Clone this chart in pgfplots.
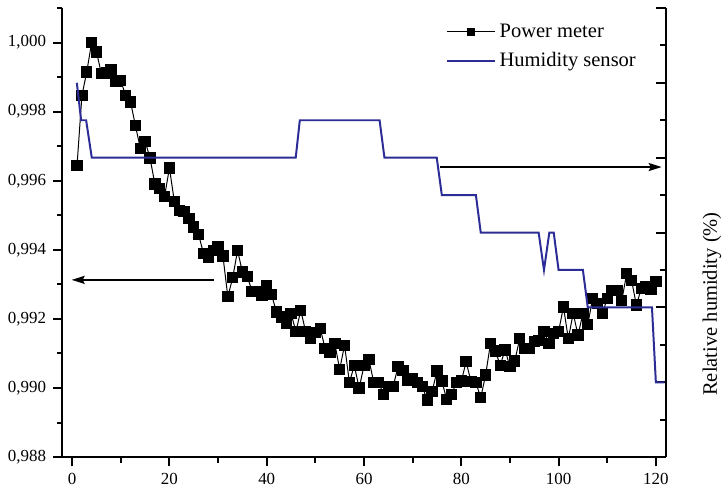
\documentclass[border=0pt]{standalone}
\usepackage{fontspec}
\setmainfont{Liberation Serif}
\usepackage{pgfplots}
\usepackage{pgfplotstable}
\pgfplotsset{compat=1.18}
\usetikzlibrary{arrows.meta}
\definecolor{hum}{RGB}{44,44,150}

\pgfplotstableread{
x y
1 0.99644
2 0.99846
3 0.99915
4 1.00000
5 0.99973
6 0.99910
7 0.99912
8 0.99920
9 0.99889
10 0.99890
11 0.99846
12 0.99828
13 0.99760
14 0.99694
15 0.99714
16 0.99666
17 0.99591
18 0.99577
19 0.99555
20 0.99637
21 0.99540
22 0.99514
23 0.99510
24 0.99490
25 0.99466
26 0.99444
27 0.99389
28 0.99378
29 0.99398
30 0.99408
31 0.99382
32 0.99264
33 0.99319
34 0.99398
35 0.99336
36 0.99323
37 0.99280
38 0.99279
39 0.99268
40 0.99297
41 0.99270
42 0.99220
43 0.99206
44 0.99187
45 0.99216
46 0.99163
47 0.99225
48 0.99163
49 0.99143
50 0.99160
51 0.99172
52 0.99115
53 0.99103
54 0.99128
55 0.99054
56 0.99124
57 0.99016
58 0.99065
59 0.99000
60 0.99065
61 0.99083
62 0.99016
63 0.99016
64 0.98982
65 0.99005
66 0.99005
67 0.99062
68 0.99050
69 0.99023
70 0.99026
71 0.99016
72 0.99004
73 0.98965
74 0.98990
75 0.99049
76 0.99020
77 0.98967
78 0.98982
79 0.99016
80 0.99020
81 0.99076
82 0.99018
83 0.99016
84 0.98972
85 0.99038
86 0.99129
87 0.99107
88 0.99066
89 0.99110
90 0.99062
91 0.99078
92 0.99143
93 0.99115
94 0.99115
95 0.99134
96 0.99138
97 0.99163
98 0.99129
99 0.99158
100 0.99163
101 0.99235
102 0.99143
103 0.99216
104 0.99153
105 0.99216
106 0.99184
107 0.99259
108 0.99244
109 0.99216
110 0.99259
111 0.99283
112 0.99283
113 0.99254
114 0.99331
115 0.99312
116 0.99240
117 0.99288
118 0.99293
119 0.99286
120 0.99309
}\pmdata

\pgfplotstableread{
x h
0.96 10
1.84 9
2.87 9
4.03 8
45.96 8
46.8 9
63.2 9
64.2 8
74.95 8
76.0 7
83.0 7
84.0 6
95.9 6
97.0 5
98.1 6
99.0 6
100.0 5
105.0 5
106.0 4
119.2 4
120.0 2
121.8 2
}\humdata

\begin{document}
\begin{tikzpicture}
\begin{axis}[
  scale only axis, width=302.8pt, height=225.5pt,
  xmin=-2, xmax=122, ymin=0.988, ymax=1.001,
  clip mode=individual,
  axis x line*=bottom, axis y line*=left,
  axis line style={line width=1pt, -},
  xtick={0,20,40,60,80,100,120},
  minor xtick={10,30,50,70,90,110},
  ytick={0.988,0.990,0.992,0.994,0.996,0.998,1.000},
  minor ytick={0.989,0.991,0.993,0.995,0.997,0.999,1.001},
  scaled y ticks=false,
  tick align=outside,
  major tick length=4.7pt, minor tick length=2.7pt,
  every tick/.style={black, line width=1pt},
  tick label style={font=\fontsize{8.5}{10}\selectfont},
  /pgf/number format/assume math mode=true,
  yticklabel style={/pgf/number format/.cd, use comma, fixed, fixed zerofill, precision=3},
  legend style={draw=none, fill=none, at={(axis description cs:0.635,0.975)}, anchor=north west,
    font=\fontsize{10.3}{12}\selectfont, row sep=2pt, inner sep=0pt,
    nodes={inner sep=2pt}},
  legend cell align=left,
  legend image code/.code={\draw[mark repeat=2,mark phase=2,#1] plot coordinates {(0pt,0pt) (12pt,0pt) (24pt,0pt)};},
  legend image post style={mark size=1.8pt},
]
\addplot[black, line width=0.5pt, mark=square*, mark size=2.6pt, mark options={solid, fill=black}] table[x=x,y=y]{\pmdata};
\addlegendentry{Power meter}
\addlegendimage{hum, line width=1pt}
\addlegendentry{Humidity sensor}
\draw[line width=1pt, -{Stealth[length=6.5pt,width=4pt,inset=1pt]}] (axis cs:29.2,0.99313) -- (axis cs:-0.1,0.99313);
\end{axis}
\begin{axis}[
  scale only axis, width=302.8pt, height=225.5pt,
  xmin=-2, xmax=122, ymin=0, ymax=12,
  clip mode=individual,
  axis x line=none, axis y line*=right,
  axis line style={line width=1pt, -},
  ytick={0,2,4,6,8,10,12}, minor ytick={1,3,5,7,9,11},
  yticklabels={},
  tick align=inside,
  major tick length=5pt, minor tick length=3pt,
  every tick/.style={black, line width=1pt},
]
\addplot[hum, line width=1pt, mark=none] table[x=x,y=h]{\humdata};
\draw[line width=1pt, -{Stealth[length=6.5pt,width=4pt,inset=1pt]}] (axis cs:75.65,7.75) -- (axis cs:121.2,7.75);
\node[rotate=90, font=\fontsize{10.3}{12}\selectfont] at (rel axis cs:1.077,0.341) {Relative humidity (\%)};
\end{axis}
\path ([shift={(-31.35pt,-16.5pt)}]current axis.south west) rectangle ([shift={(29.85pt,4pt)}]current axis.north east);
\end{tikzpicture}
\end{document}
